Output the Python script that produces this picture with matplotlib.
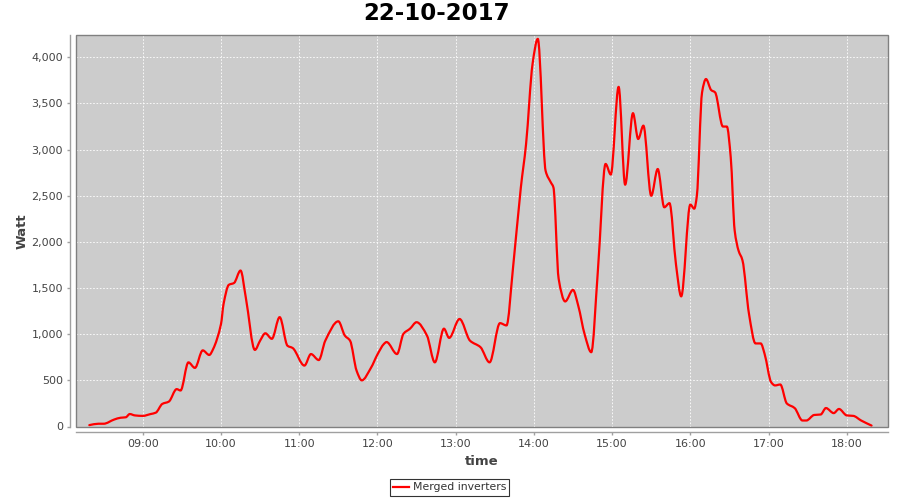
import matplotlib
matplotlib.use("Agg")
import matplotlib.pyplot as plt
from matplotlib.patches import Rectangle, PathPatch
from matplotlib.path import Path
from matplotlib.lines import Line2D
from matplotlib.ticker import FuncFormatter, MultipleLocator

title = "22-10-2017"
series_name = "Merged inverters"
x_label = "time"
y_label = "Watt"

times = ["08:19","08:26","08:30","08:38","08:43","08:47","08:50","08:54","09:00","09:06",
         "09:10","09:15","09:20","09:26","09:29","09:35","09:40","09:46","09:51","09:54",
         "10:00","10:02","10:06","10:10","10:15","10:19","10:26","10:30","10:34","10:39",
         "10:45","10:51","10:55","11:04","11:09","11:15","11:20","11:30","11:35","11:39",
         "11:44","11:48","11:55","12:00","12:05","12:07","12:15","12:20","12:25","12:30",
         "12:38","12:44","12:51","12:55","13:03","13:11","13:19","13:26","13:34","13:39",
         "13:44","13:50","13:54","13:59","14:03","14:09","14:13","14:15","14:19","14:24",
         "14:30","14:34","14:39","14:44","14:49","14:55","14:59","15:05","15:10","15:16",
         "15:20","15:24","15:30","15:35","15:40","15:44","15:49","15:53","16:00","16:03",
         "16:05","16:09","16:12","16:16","16:19","16:25","16:28","16:31","16:34","16:37",
         "16:40","16:45","16:50","16:54","16:57","17:02","17:05","17:09","17:14","17:20",
         "17:26","17:29","17:35","17:40","17:44","17:50","17:54","18:00","18:05","18:11",
         "18:19"]

watts = [15, 30, 30, 75, 95, 100, 135, 120, 115, 135,
         150, 245, 270, 405, 390, 695, 635, 825, 775, 840,
         1110, 1330, 1535, 1555, 1690, 1400, 830, 930, 1010, 950,
         1185, 875, 850, 660, 785, 720, 930, 1140, 985, 930,
         605, 500, 635, 780, 895, 915, 785, 1005, 1060, 1130,
         985, 695, 1060, 960, 1165, 930, 860, 695, 1120, 1095,
         1720, 2590, 3060, 3930, 4200, 2770, 2645, 2590, 1600, 1355,
         1480, 1310, 995, 805, 1670, 2845, 2730, 3680, 2620, 3395,
         3115, 3260, 2500, 2790, 2375, 2420, 1755, 1410, 2405, 2360,
         2500, 3620, 3765, 3645, 3620, 3250, 3250, 2915, 2125, 1905,
         1800, 1220, 900, 900, 785, 480, 445, 455, 250, 200,
         65, 65, 125, 130, 200, 145, 190, 120, 115, 65,
         10]

hour_ticks = [9, 10, 11, 12, 13, 14, 15, 16, 17, 18]


def to_hours(s):
    h, m = s.split(":")
    return int(h) + int(m) / 60.0


xs = [to_hours(t) for t in times]

plt.rcParams['font.family'] = ['DejaVu Sans']

fig = plt.figure(figsize=(9, 5), dpi=100)
fig.patch.set_facecolor("white")
L, R, T, B = 75.5, 888, 35, 426.5
ax = fig.add_axes([L / 900, 1 - B / 500, (R - L) / 900, (B - T) / 500])
ax.set_facecolor("#cccccc")

# smooth rendering of the series through its own points (Hermite/Bezier,
# zero slope at local extrema to avoid overshoot)
n = len(xs)
slopes = []
for i in range(n):
    if i == 0:
        slopes.append((watts[1] - watts[0]) / (xs[1] - xs[0]))
    elif i == n - 1:
        slopes.append((watts[-1] - watts[-2]) / (xs[-1] - xs[-2]))
    else:
        d0 = (watts[i] - watts[i - 1]) / (xs[i] - xs[i - 1])
        d1 = (watts[i + 1] - watts[i]) / (xs[i + 1] - xs[i])
        if d0 * d1 <= 0:
            slopes.append(0.0)
        else:
            slopes.append(2.0 / (1.0 / d0 + 1.0 / d1))
verts = [(xs[0], watts[0])]
codes = [Path.MOVETO]
for i in range(n - 1):
    h = xs[i + 1] - xs[i]
    c1 = (xs[i] + h / 3.0, watts[i] + slopes[i] * h / 3.0)
    c2 = (xs[i + 1] - h / 3.0, watts[i + 1] - slopes[i + 1] * h / 3.0)
    verts += [c1, c2, (xs[i + 1], watts[i + 1])]
    codes += [Path.CURVE4, Path.CURVE4, Path.CURVE4]
curve = PathPatch(Path(verts, codes), transform=ax.transData, fill=False,
                  edgecolor="#ff0000", linewidth=1.6, joinstyle="round",
                  capstyle="round", zorder=3)
ax.add_patch(curve)

ax.set_xlim(8.14, 18.527)
ax.set_ylim(0, 4242)

ax.set_xticks(hour_ticks)
ax.set_xticklabels([f"{h:02d}:00" for h in hour_ticks])
ax.yaxis.set_major_locator(MultipleLocator(500))
ax.yaxis.set_major_formatter(FuncFormatter(lambda v, p: f"{int(v):,}"))

ax.grid(True, color="white", linestyle=(0, (2, 2)), linewidth=0.6)
ax.set_axisbelow(True)

for s in ["top", "right"]:
    ax.spines[s].set_visible(False)
for s in ["left", "bottom"]:
    ax.spines[s].set_position(("outward", 4))
    ax.spines[s].set_color("#a0a0a0")
    ax.spines[s].set_linewidth(1.0)

ax.add_patch(Rectangle((0, 0), 1, 1, transform=ax.transAxes, fill=False,
                       edgecolor="#808080", linewidth=1.0, zorder=5, clip_on=False))

ax.tick_params(axis="both", colors="#a0a0a0", labelcolor="#444444",
               labelsize=8, length=2, width=1.0, direction="out", pad=3)

ax.set_xlabel(x_label, fontsize=9.5, fontweight="bold", color="#444444", labelpad=4)
ax.set_ylabel(y_label, fontsize=9.5, fontweight="bold", color="#444444", labelpad=2)

fig.text(0.485, 1 - 14 / 500, title, ha="center", va="center",
         fontsize=16.5, fontweight="bold", color="black")

handle = Line2D([], [], color="#ff0000", lw=1.6)
leg = ax.legend([handle], [series_name], loc="center",
                bbox_to_anchor=(449.5 / 900, 1 - 487.5 / 500),
                bbox_transform=fig.transFigure, fontsize=7.8, frameon=True,
                fancybox=False, handlelength=1.5, handletextpad=0.3,
                borderpad=0.3, borderaxespad=0)
leg.get_frame().set_edgecolor("black")
leg.get_frame().set_linewidth(0.8)
for t in leg.get_texts():
    t.set_color("#333333")

fig.savefig("out.png", dpi=100, facecolor="white")
